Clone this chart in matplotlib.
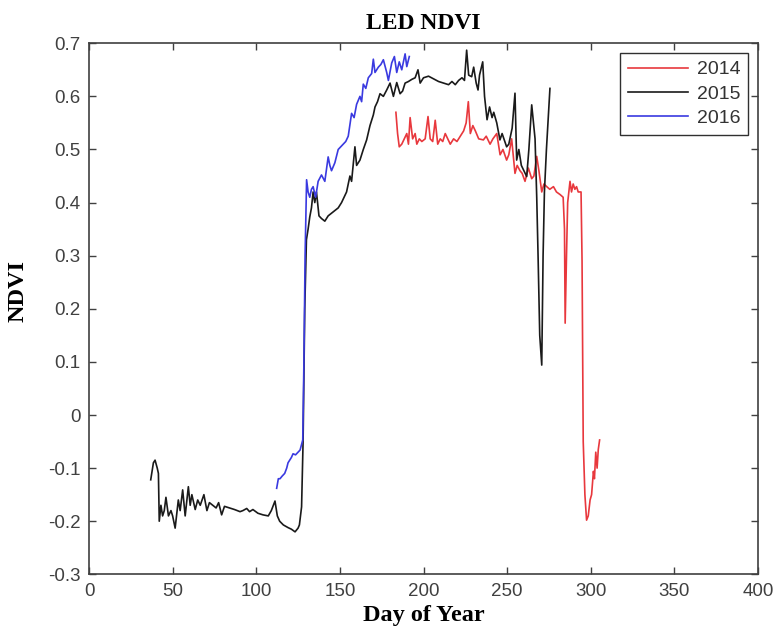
import matplotlib
matplotlib.use('Agg')
import matplotlib.pyplot as plt
import numpy as np

# 2014 (red)
day_2014 = [183.5, 184.5, 185.5, 187, 188.5, 190, 191, 192, 193.5, 195, 196, 197.5, 199, 201,
            202.7, 204, 205.5, 207, 208.5, 210, 211.5, 213, 214.5, 216, 218, 220, 222, 224,
            225.5, 226.8, 228, 229.5, 231, 233, 235.8, 237.5, 239.8, 241.5, 243.8, 245.8, 247.5,
            249.7, 251, 252.7, 254.7, 256, 257.7, 259, 260.7, 262.7, 264.7, 266, 267.7, 269,
            270.7, 272, 273.7, 275.5, 277.7, 279.5, 281.7, 283.5, 284.3, 284.7, 285.5, 286.2,
            287.6, 288.5, 289.5, 290.5, 291.5, 292.5, 294.2, 294.8, 295.5, 296.5, 297.5, 298.5,
            299.6, 300.5, 301.6, 302.2, 303, 303.8, 304.5, 305.3]
ndvi_2014 = [0.57, 0.53, 0.505, 0.51, 0.52, 0.53, 0.51, 0.56, 0.52, 0.53, 0.51, 0.52, 0.515, 0.52,
             0.562, 0.52, 0.515, 0.555, 0.51, 0.52, 0.515, 0.53, 0.52, 0.51, 0.52, 0.515, 0.525, 0.535,
             0.55, 0.59, 0.53, 0.545, 0.535, 0.52, 0.518, 0.525, 0.51, 0.52, 0.53, 0.49, 0.5,
             0.48, 0.49, 0.52, 0.455, 0.47, 0.46, 0.455, 0.44, 0.465, 0.445, 0.45, 0.487, 0.46,
             0.42, 0.435, 0.43, 0.425, 0.43, 0.42, 0.415, 0.41, 0.35, 0.173, 0.3, 0.4,
             0.44, 0.42, 0.435, 0.425, 0.43, 0.42, 0.42, 0.29, -0.05, -0.15, -0.198, -0.19,
             -0.16, -0.15, -0.106, -0.12, -0.07, -0.1, -0.065, -0.047]

# 2015 (black)
day_2015 = [36.9, 38.5, 39.5, 40.8, 41.5, 42, 43, 44, 45, 46, 47.5, 49, 50, 51.5, 53.4, 54.5, 56,
            57.5, 59.4, 60.5, 61.5, 63.5, 65, 66.5, 68.7, 70.5, 72, 74, 76, 77.5, 79.3, 81, 84,
            87, 90.3, 92, 94.3, 96, 98, 101, 104, 107.2, 109, 111.2, 112.6, 114, 116.2, 119,
            121, 123.2, 125, 125.8, 127.1, 128, 129, 130, 131, 132, 133, 134, 135, 136, 137.5,
            139, 141, 143, 145, 147, 149, 151, 152.5, 154, 156, 157, 159, 160, 162, 164, 166,
            168, 170, 171, 172.5, 174, 176, 178, 180, 182, 184, 186, 187.5, 189, 191, 193, 195,
            196.7, 198, 200, 203, 206, 209, 212, 215, 217, 219, 221, 223, 224.5, 225.8, 227,
            228.8, 230, 231.5, 232.6, 233.5, 235.4, 236.5, 238, 239.5, 241, 242, 243.8, 245.7,
            247, 249.7, 251, 253, 254.7, 255.7, 257, 258.5, 260, 261.7, 263, 264.7, 266.7,
            267.7, 268.5, 269.5, 270.7, 271.5, 272.3, 273.5, 275.6]
ndvi_2015 = [-0.122, -0.09, -0.085, -0.10, -0.11, -0.2, -0.17, -0.19, -0.18, -0.155, -0.19, -0.18,
             -0.19, -0.213, -0.16, -0.18, -0.141, -0.19, -0.135, -0.17, -0.15, -0.178, -0.16, -0.17,
             -0.15, -0.18, -0.165, -0.17, -0.175, -0.165, -0.188, -0.172, -0.175, -0.178, -0.182,
             -0.18, -0.176, -0.182, -0.178, -0.185, -0.188, -0.19, -0.18, -0.162, -0.19, -0.2,
             -0.207, -0.212, -0.215, -0.22, -0.213, -0.207, -0.173, -0.05, 0.2, 0.33, 0.35, 0.373,
             0.39, 0.42, 0.4, 0.42, 0.375, 0.37, 0.365, 0.375, 0.38, 0.385, 0.39, 0.40, 0.41, 0.42,
             0.45, 0.44, 0.505, 0.47, 0.48, 0.5, 0.518, 0.545, 0.565, 0.58, 0.59, 0.605, 0.60,
             0.612, 0.625, 0.60, 0.626, 0.605, 0.61, 0.625, 0.628, 0.632, 0.635, 0.65, 0.625,
             0.635, 0.638, 0.633, 0.628, 0.625, 0.622, 0.628, 0.622, 0.63, 0.635, 0.63, 0.687,
             0.64, 0.637, 0.655, 0.625, 0.612, 0.64, 0.665, 0.6, 0.556, 0.58, 0.56, 0.57, 0.55,
             0.518, 0.53, 0.505, 0.51, 0.54, 0.606, 0.48, 0.5, 0.47, 0.46, 0.449, 0.5, 0.584,
             0.52, 0.41, 0.3, 0.15, 0.094, 0.3, 0.42, 0.5, 0.615]

# 2016 (blue)
day_2016 = [112.2, 113.2, 114.2, 115.5, 117, 118.2, 119, 120, 121, 122, 123.5, 125, 126.2, 127.8,
            128.5, 129.2, 130.1, 131, 132, 133, 134, 135.5, 137, 139, 141, 143, 144, 145, 147,
            149, 150.5, 152, 153.5, 155, 157, 158.5, 160, 162, 163, 164, 165.5, 167, 169, 170,
            171, 173, 174.5, 176, 178, 179, 181, 182.6, 184, 185.5, 187, 189, 190, 191.5]
ndvi_2016 = [-0.138, -0.12, -0.12, -0.115, -0.11, -0.10, -0.09, -0.085, -0.08, -0.073, -0.075,
             -0.07, -0.066, -0.047, 0.1, 0.3, 0.443, 0.42, 0.41, 0.425, 0.43, 0.41, 0.44, 0.452,
             0.44, 0.486, 0.47, 0.46, 0.475, 0.5, 0.505, 0.51, 0.515, 0.525, 0.568, 0.56, 0.585,
             0.6, 0.59, 0.623, 0.615, 0.635, 0.643, 0.67, 0.645, 0.655, 0.66, 0.669, 0.645, 0.63,
             0.663, 0.675, 0.645, 0.665, 0.65, 0.68, 0.656, 0.675]

x_ticks = [0, 50, 100, 150, 200, 250, 300, 350, 400]
y_ticks = [-0.3, -0.2, -0.1, 0, 0.1, 0.2, 0.3, 0.4, 0.5, 0.6, 0.7]

fig = plt.figure(figsize=(7.76, 6.38), dpi=100)
ax = fig.add_axes([0.1147, 0.0998, 0.8621, 0.8324])

ax.plot(day_2014, ndvi_2014, color='#e8383d', lw=1.2, label='2014')
ax.plot(day_2015, ndvi_2015, color='#1a1a1a', lw=1.2, label='2015')
ax.plot(day_2016, ndvi_2016, color='#3a3ae0', lw=1.2, label='2016')

ax.set_xlim(0, 400)
ax.set_ylim(-0.3, 0.7)
ax.set_xticks(x_ticks)
ax.set_yticks(y_ticks)
ax.set_yticklabels(['-0.3', '-0.2', '-0.1', '0', '0.1', '0.2', '0.3', '0.4', '0.5', '0.6', '0.7'])
ax.tick_params(direction='in', top=True, right=True, length=5, width=1,
               labelsize=13.5, colors='#404040', labelcolor='#404040', pad=6)
for t in ax.get_xticklabels() + ax.get_yticklabels():
    t.set_family('Liberation Sans')
for s in ax.spines.values():
    s.set_color('#404040')
    s.set_linewidth(1.2)

ax.set_title('LED NDVI', family='Liberation Serif', weight='bold', fontsize=17, pad=10)
ax.set_xlabel('Day of Year', family='Liberation Serif', weight='bold', fontsize=17.5, labelpad=4)
ax.set_ylabel('NDVI', family='Liberation Serif', weight='bold', fontsize=17.5)
ax.yaxis.set_label_coords(-0.091, 0.533)

leg = ax.legend(loc='upper right', prop={'family': 'Liberation Sans', 'size': 14},
                fancybox=False, edgecolor='#303030', framealpha=1, handlelength=3.1,
                handletextpad=0.45, labelspacing=0.35, borderaxespad=0.5, borderpad=0.4)
leg.get_frame().set_linewidth(1.0)
for t in leg.get_texts():
    t.set_color('#333333')

fig.savefig('out.png', dpi=100)
